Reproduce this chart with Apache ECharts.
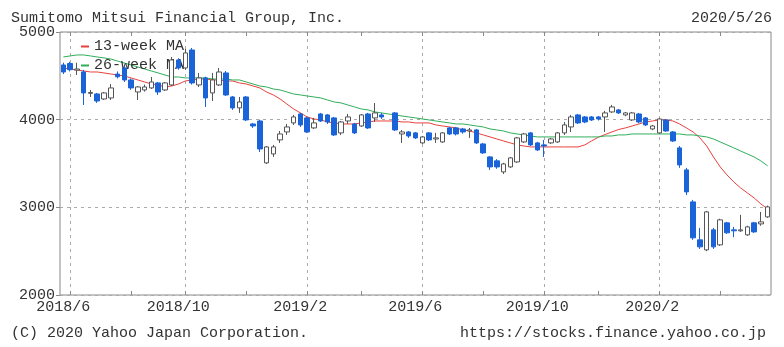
<!DOCTYPE html>
<html><head><meta charset="utf-8">
<script src="https://cdn.jsdelivr.net/npm/echarts@6/dist/echarts.min.js"></script>
<style>html,body{margin:0;padding:0;background:#fff}#c{width:784px;height:347px}</style>
</head><body><div id="c"></div>
<script>
const weeks = [
 '2018/5/28','2018/6/4','2018/6/11','2018/6/18','2018/6/25','2018/7/2','2018/7/9','2018/7/16','2018/7/23','2018/7/30',
 '2018/8/6','2018/8/13','2018/8/20','2018/8/27','2018/9/3','2018/9/10','2018/9/17','2018/9/24','2018/10/1','2018/10/8',
 '2018/10/15','2018/10/22','2018/10/29','2018/11/5','2018/11/12','2018/11/19','2018/11/26','2018/12/3','2018/12/10','2018/12/17',
 '2018/12/24','2018/12/31','2019/1/7','2019/1/14','2019/1/21','2019/1/28','2019/2/4','2019/2/11','2019/2/18','2019/2/25',
 '2019/3/4','2019/3/11','2019/3/18','2019/3/25','2019/4/1','2019/4/8','2019/4/15','2019/4/22','2019/4/29','2019/5/6',
 '2019/5/13','2019/5/20','2019/5/27','2019/6/3','2019/6/10','2019/6/17','2019/6/24','2019/7/1','2019/7/8','2019/7/15',
 '2019/7/22','2019/7/29','2019/8/5','2019/8/12','2019/8/19','2019/8/26','2019/9/2','2019/9/9','2019/9/16','2019/9/23',
 '2019/9/30','2019/10/7','2019/10/14','2019/10/21','2019/10/28','2019/11/4','2019/11/11','2019/11/18','2019/11/25','2019/12/2',
 '2019/12/9','2019/12/16','2019/12/23','2019/12/30','2020/1/6','2020/1/13','2020/1/20','2020/1/27','2020/2/3','2020/2/10',
 '2020/2/17','2020/2/24','2020/3/2','2020/3/9','2020/3/16','2020/3/23','2020/3/30','2020/4/6','2020/4/13','2020/4/20',
 '2020/4/27','2020/5/4','2020/5/11','2020/5/18','2020/5/25'
];
const opens = [
 4624,4640,4565,4544,4300,4293,4236,4248,4520,4590,
 4453,4316,4339,4362,4419,4339,4396,4681,4590,4795,
 4396,4476,4305,4396,4533,4259,4134,4259,3951,3985,
 3507,3609,3769,3860,3963,4065,4020,3906,4065,4054,
 4020,3849,3985,3951,3928,4065,4020,4054,null,4077,
 3837,3860,3849,3735,3849,3780,3746,3906,3906,3894,
 3871,3883,3723,3575,3530,3404,3461,3518,3746,3849,
 3735,3712,3735,3746,3849,3917,4054,4031,4031,4031,
 4031,4088,4111,4054,3997,4065,4020,3894,3849,3997,
 3860,3678,3427,3062,2629,2515,2743,2572,2823,2743,
 2732,2686,2823,2811,2891
];
const closes = [
 4544,4570,4578,4305,4310,4213,4305,4362,4490,4453,
 4362,4373,4373,4430,4316,4419,4681,4590,4761,4419,
 4476,4248,4453,4544,4282,4134,4202,3997,3928,3666,
 3689,3689,3837,3917,4031,3940,3860,3963,3985,3974,
 3826,3974,4031,3849,4054,3906,4077,4031,null,3883,
 3860,3814,3792,3803,3769,3792,3849,3837,3837,3860,
 3883,3735,3621,3461,3461,3495,3564,3792,3837,3712,
 3655,3700,3780,3849,3940,4031,3963,3974,3997,4008,
 4077,4145,4077,4077,4077,3974,3940,3928,4008,3871,
 3757,3484,3176,2652,2549,2948,2549,2857,2709,2732,
 2743,2777,2720,2834,3005
];
const lows = [
 4521,4550,4510,4168,4259,4191,4225,4225,4470,4430,
 4340,4225,4320,4350,4282,4327,4384,4570,4570,4400,
 4373,4145,4213,4384,4270,4111,4077,3985,3906,3632,
 3495,3575,3735,3826,3940,3917,3849,3894,3974,3951,
 3814,3826,3951,3837,3917,3894,3974,4008,null,3871,
 3735,3792,3780,3723,3757,3735,3735,3826,3820,3840,
 3792,3723,3609,3427,3440,3380,3450,3507,3735,3700,
 3643,3575,3723,3735,3826,3860,3951,3960,3985,3990,
 3860,4077,4065,4040,3985,3960,3928,3880,3837,3860,
 3746,3450,3140,2629,2526,2500,2526,2560,2697,2660,
 2720,2675,2709,2790,2880
];
const highs = [
 4650,4660,4650,4567,4339,4305,4316,4407,4550,4612,
 4470,4384,4400,4487,4430,4430,4715,4700,4806,4818,
 4533,4490,4533,4590,4555,4270,4259,4270,3963,4000,
 3700,3712,3871,3951,4054,4077,4031,4020,4077,4065,
 4031,3985,4065,3963,4065,4077,4191,4077,null,4088,
 3883,3871,3860,3814,3860,3849,3860,3917,3917,3906,
 3906,3894,3735,3586,3550,3507,3575,3803,3849,3860,
 3746,3769,3792,3860,3974,4054,4065,4042,4042,4042,
 4100,4168,4122,4088,4088,4077,4031,3940,4020,4008,
 3871,3700,3450,3085,2766,2960,2766,2870,2834,2777,
 2914,2790,2834,2948,3020
];
const ma13 = [
 4590,4578,4567,4555,4544,4544,4533,4521,4510,4498,
 4476,4453,4430,4407,4396,4373,4384,4407,4441,4453,
 4464,4464,4453,4453,4441,4441,4419,4407,4384,4362,
 4316,4282,4236,4179,4122,4077,4031,4008,3997,3974,
 3963,3951,3951,3951,3963,3974,3985,3985,3985,3985,
 3974,3974,3963,3963,3963,3940,3928,3917,3906,3883,
 3871,3849,3826,3803,3780,3757,3735,3712,3700,3689,
 3689,3689,3689,3689,3689,3689,3689,3712,3757,3800,
 3830,3860,3888,3906,3928,3951,3974,3985,3997,3997,
 3985,3951,3906,3860,3792,3700,3575,3461,3370,3290,
 3222,3165,3108,3039,2982
];
const ma26 = [
 4715,4727,4738,4738,4727,4715,4704,4692,4669,4646,
 4624,4601,4578,4555,4533,4510,4487,4487,4476,4476,
 4476,4476,4464,4464,4464,4453,4453,4430,4407,4384,
 4373,4350,4339,4316,4293,4282,4270,4259,4248,4225,
 4202,4191,4168,4145,4122,4111,4088,4077,4065,4054,
 4042,4031,4020,4008,3997,3985,3974,3963,3951,3951,
 3940,3928,3917,3894,3883,3871,3849,3837,3826,3814,
 3803,3803,3803,3803,3803,3803,3803,3803,3803,3803,
 3814,3814,3826,3826,3837,3837,3837,3837,3837,3837,
 3837,3837,3826,3826,3814,3803,3780,3746,3712,3678,
 3643,3609,3575,3530,3473
];
const yTicks = [2000, 3000, 4000, 5000];
const labelMonths = [2, 6, 10];

const candleData = weeks.map((w, i) => opens[i] == null ? '-' : [opens[i], closes[i], lows[i], highs[i]]);
function parts(v) { const p = v.split('/'); return { y: +p[0], m: +p[1], d: +p[2] }; }
const isLabelWeek = (idx, v) => { const p = parts(v); return p.d <= 7 && labelMonths.indexOf(p.m) >= 0; };
const isTickWeek = (idx, v) => { const p = parts(v); return p.d <= 7 && p.m % 2 === 0; };

const FONT = 'Liberation Mono';
const BLUE = '#1a63d8';
const TXT = { fontFamily: FONT, fontSize: 15, fontWeight: 'normal', color: '#333' };
const chart = echarts.init(document.getElementById('c'), null, { renderer: 'canvas' });
chart.setOption({
  animation: false,
  backgroundColor: '#fff',
  textStyle: { fontFamily: FONT },
  title: [
    { text: 'Sumitomo Mitsui Financial Group, Inc.', left: 6, top: 6, textStyle: TXT },
    { text: '2020/5/26', right: 7, top: 6, textStyle: TXT },
    { text: '(C) 2020 Yahoo Japan Corporation.', left: 6, top: 321, textStyle: TXT },
    { text: 'https://stocks.finance.yahoo.co.jp', right: 13, top: 321, textStyle: TXT }
  ],
  legend: {
    orient: 'vertical', left: 76, top: 34, itemGap: 4,
    icon: 'rect', itemWidth: 8, itemHeight: 2,
    textStyle: { fontFamily: FONT, fontSize: 15, color: '#333', lineHeight: 15 },
    data: ['13-week MA', '26-week MA']
  },
  grid: { left: 60, right: 13, top: 32, bottom: 52, show: true, borderColor: '#888', borderWidth: 1 },
  xAxis: [
    {
      type: 'category', data: weeks, boundaryGap: true,
      axisLine: { show: false },
      axisTick: { show: true, inside: true, length: 4, alignWithLabel: true, interval: isTickWeek, lineStyle: { color: '#888' } },
      axisLabel: { interval: isLabelWeek, margin: 5, fontFamily: FONT, fontSize: 15, color: '#333', padding: [0, 14, 0, 0],
        formatter: v => { const p = parts(v); return p.y + '/' + p.m; } },
      splitLine: { show: true, interval: isLabelWeek, alignWithLabel: true, lineStyle: { color: '#aaa', type: [3, 4], width: 1 } }
    },
    {
      type: 'category', data: weeks, boundaryGap: true, position: 'top',
      axisLine: { show: false },
      axisTick: { show: true, inside: true, length: 4, alignWithLabel: true, interval: isTickWeek, lineStyle: { color: '#888' } },
      axisLabel: { show: false }, splitLine: { show: false }
    }
  ],
  yAxis: {
    type: 'value', min: 2000, max: 5000, interval: 1000,
    axisLine: { show: false },
    axisTick: { show: true, length: 4, lineStyle: { color: '#888' } },
    axisLabel: { fontFamily: FONT, fontSize: 15, color: '#333', margin: 5,
      formatter: v => yTicks.indexOf(v) >= 0 ? String(v) : '' },
    splitLine: { show: true, lineStyle: { color: '#aaa', type: [3, 4], width: 1 } }
  },
  series: [
    { name: '13-week MA', type: 'line', data: ma13, showSymbol: false, symbol: 'none', z: 3,
      lineStyle: { color: '#e8413c', width: 1 }, itemStyle: { color: '#e8413c' } },
    { name: '26-week MA', type: 'line', data: ma26, showSymbol: false, symbol: 'none', z: 3,
      lineStyle: { color: '#2fae5a', width: 1 }, itemStyle: { color: '#2fae5a' } },
    { name: 'price', type: 'candlestick', data: candleData, barWidth: 5, z: 4,
      itemStyle: { color: '#ffffff', color0: BLUE, borderColor: '#555', borderColor0: BLUE, borderWidth: 1 } }
  ]
});
</script></body></html>
